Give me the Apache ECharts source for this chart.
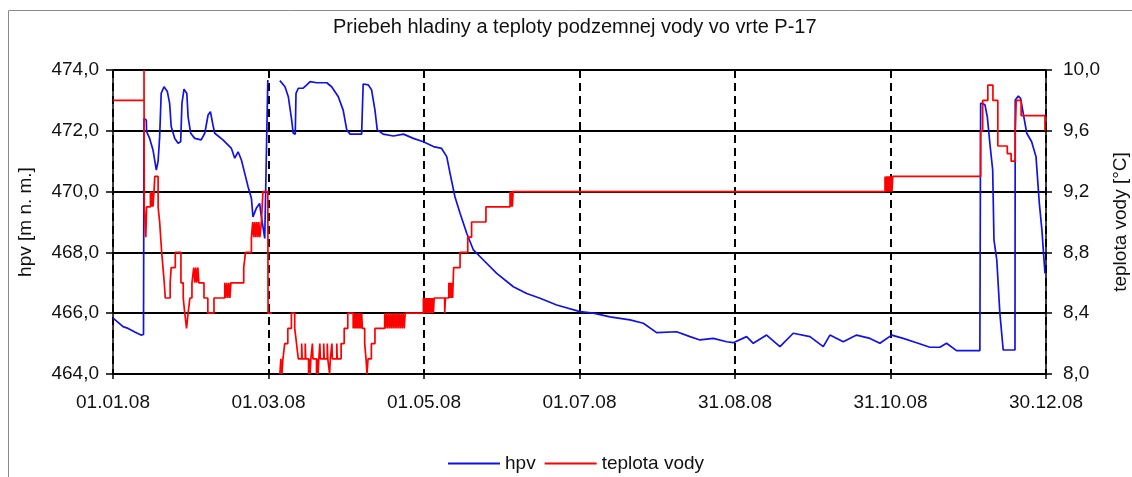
<!DOCTYPE html>
<html>
<head>
<meta charset="utf-8">
<title>Priebeh hladiny a teploty podzemnej vody vo vrte P-17</title>
<script src="https://cdn.jsdelivr.net/npm/echarts@6/dist/echarts.min.js"></script>
<style>
  html, body { margin: 0; padding: 0; background: #fff; }
  #chart { width: 1132px; height: 477px; }
</style>
</head>
<body>
<div id="chart"></div>
<script>
// x = days since 01.01.08
const dateLabels = ["01.01.08", "01.03.08", "01.05.08", "01.07.08", "31.08.08", "31.10.08", "30.12.08"];
const lastDay = 364;

// hladina podzemnej vody (hpv), m n. m.; null = missing data
const hpvDays = [
  0, 2.0, 3.9, 4.6, 5.9, 8.5, 10.9, 11.9, 12.1, 13.0, 13.1, 14.3, 15.6, 16.9, 17.6, 18.2, 18.8, 19.9,
  21.2, 22.1, 22.7, 24.1, 25.4, 26.4, 26.9, 27.7, 28.8, 29.3, 30.3, 31.9, 34.4, 35.8, 37.1, 38.0,
  39.0, 39.7, 42.9, 46.2, 47.5, 48.8, 50.1, 51.4, 52.7, 54.0, 54.6, 55.9, 57.2, 57.9, 59.2, 59.8,
  60.4, 62.0,
  65.1, 67.1, 68.4, 69.7, 70.3, 71.1, 71.4, 72.3, 74.2, 75.6, 76.9, 79.5, 83.4, 85.3, 87.9, 89.8,
  91.2, 92.5, 97.0, 97.6, 99.6, 100.9, 102.2, 103.1, 105.4, 109.4, 113.3, 117.2, 121.1, 125.0,
  128.2, 130.2, 131.5, 133.4, 135.4, 138.0, 140.6, 144.5, 149.7, 156.2, 161.4, 166.6, 173.1,
  182.2, 187.4, 193.9, 201.7, 206.9, 212.1, 219.9, 225.1, 229.0, 234.2, 239.4, 242.0, 247.2,
  249.8, 255.0, 260.2, 265.4, 271.9, 277.1, 279.7, 284.9, 290.1, 295.3, 299.2, 303.8, 308.3,
  313.5, 318.7, 322.6, 325.2, 329.1, 338.2, 338.5, 339.3, 340.2, 341.1, 342.1, 343.2, 343.7,
  344.8, 346.0, 347.3, 351.9, 352.0, 353.2, 354.1, 355.1, 356.5, 358.4, 360.1, 361.4, 362.4, 363.6
];
const hpvLevels = [
  465.84, 465.7, 465.56, 465.6, 465.5, 465.38, 465.28, 465.3, 472.41, 472.35, 471.97, 471.75, 471.37, 470.71, 471.0, 471.8, 473.23, 473.45,
  473.29, 472.9, 472.14, 471.75, 471.59, 471.64, 472.9, 473.37, 473.23, 472.46, 471.92, 471.75, 471.7, 471.92, 472.52, 472.63,
  472.19, 471.92, 471.7, 471.42, 471.1, 471.31, 471.04, 470.6, 470.16, 469.78, 469.17, 469.45, 469.61, 469.17, 468.46, 468.41,
  473.67, null,
  473.65, 473.45, 473.12, 472.36, 471.92, 471.89, 473.23, 473.4, 473.4, 473.51, 473.62, 473.58, 473.58, 473.45, 473.12, 472.68,
  472.03, 471.89, 471.89, 473.54, 473.51, 473.34, 472.68, 472.03, 471.89, 471.83, 471.89, 471.75, 471.64, 471.48,
  471.42, 471.15, 470.6, 469.83, 469.29, 468.63, 468.08, 467.75, 467.31, 466.87, 466.65, 466.49, 466.27,
  466.05, 466.0, 465.88, 465.78, 465.67, 465.36, 465.39, 465.23, 465.12, 465.17, 465.06, 465.03, 465.23,
  465.01, 465.28, 464.9, 465.34, 465.23, 464.9, 465.28, 465.06, 465.28, 465.17, 465.01, 465.28, 465.17,
  465.03, 464.88, 464.88, 465.01, 464.77, 464.77, 472.9, 472.9, 472.85, 472.46, 471.59, 470.71, 468.41,
  467.75, 466.0, 464.79, 464.79, 473.01, 473.14, 473.07, 472.58, 471.92, 471.64, 471.15, 469.61, 468.74, 467.31
];

// teplota vody, °C (each value holds until the next day in the list)
const tempDays = [
  0, 12.1, 12.2, 12.8, 13.1, 14.6, 15.0, 15.3, 15.6, 16.0, 16.3, 17.6, 18.2, 18.6, 19.0, 19.5, 20.0, 20.4,
  22.3, 22.7, 24.3, 26.5, 27.4, 28.0, 28.7, 29.3, 30.0, 30.8, 31.5, 31.9, 32.3, 32.7, 33.1, 33.5,
  35.5, 37.0, 39.4, 43.6, 44.0, 44.4, 44.8, 45.2, 45.6, 46.0, 51.0, 51.7, 52.5, 54.0, 54.5, 54.9,
  55.3, 55.7, 56.1, 56.5, 56.9, 57.3, 57.9, 58.5, 60.4, 60.5, 62.0,
  65.1, 65.5, 65.9, 66.3, 67.0, 68.2, 69.6, 70.9, 71.6, 72.3, 73.6, 73.8, 75.0, 75.2, 76.3, 76.6,
  76.9, 77.2, 77.8, 78.0, 79.4, 79.7, 80.0, 80.3, 80.7, 80.9, 82.2, 82.4, 83.6, 83.8, 84.5, 84.8,
  85.4, 85.6, 87.3, 87.5, 89.0, 90.2, 91.6, 93.7, 94.0, 94.3, 94.6, 94.9, 95.2, 95.5, 95.8, 96.1,
  96.4, 96.7, 97.0, 97.3, 97.6, 98.2, 98.7, 99.1, 99.5, 100.8, 102.2,
  106.0, 106.4, 106.8, 107.2, 107.6, 108.0, 108.4, 108.8, 109.2, 109.6, 110.0, 110.4, 110.8, 111.2,
  111.6, 112.0, 112.4, 112.8, 113.2, 113.6, 114.0,
  121.1, 121.4, 121.7, 122.0, 122.3, 122.6, 122.9, 123.2, 123.5, 123.8, 124.1, 124.4, 124.7, 125.0,
  125.3, 125.6, 129.4, 129.7, 131.0, 131.3, 131.6, 131.9, 132.2, 132.5, 132.9, 135.4, 138.4, 139.9,
  145.5, 154.9, 155.2, 155.5, 155.8, 156.1, 156.5,
  301.2, 301.5, 301.8, 302.1, 302.4, 302.7, 303.0, 303.3, 303.6, 303.9, 304.2, 304.4,
  338.5, 339.3, 341.3, 343.3, 345.2, 348.9, 350.4, 352.0, 352.4, 354.3, 363.6
];
const tempValues = [
  9.8, 10.0, 9.1, 8.9, 9.1, 9.2, 9.1, 9.2, 9.1, 9.2, 9.3, 9.1, 9.0, 8.9, 8.8, 8.7, 8.6, 8.5,
  8.6, 8.7, 8.8, 8.6, 8.5, 8.4, 8.3, 8.4, 8.5, 8.6, 8.7, 8.6, 8.7, 8.6, 8.7, 8.6,
  8.5, 8.4, 8.5, 8.6, 8.5, 8.6, 8.5, 8.6, 8.5, 8.6, 8.7, 8.8, 8.8, 8.9, 9.0, 8.9,
  9.0, 8.9, 9.0, 8.9, 9.0, 8.9, 9.0, 9.2, 9.2, 8.4, null,
  8.0, 8.1, 8.0, 8.1, 8.2, 8.3, 8.4, 8.3, 8.2, 8.1, 8.2, 8.1, 8.2, 8.1, 8.0, 8.1,
  8.0, 8.1, 8.2, 8.1, 8.0, 8.1, 8.0, 8.1, 8.2, 8.1, 8.2, 8.1, 8.2, 8.1, 8.0, 8.1,
  8.2, 8.1, 8.2, 8.1, 8.2, 8.3, 8.4, 8.3, 8.4, 8.3, 8.4, 8.3, 8.4, 8.3, 8.4, 8.3,
  8.4, 8.3, 8.4, 8.3, 8.3, 8.2, 8.1, 8.0, 8.1, 8.2, 8.3,
  8.4, 8.3, 8.4, 8.3, 8.4, 8.3, 8.4, 8.3, 8.4, 8.3, 8.4, 8.3, 8.4, 8.3,
  8.4, 8.3, 8.4, 8.3, 8.4, 8.3, 8.4,
  8.5, 8.4, 8.5, 8.4, 8.5, 8.4, 8.5, 8.4, 8.5, 8.4, 8.5, 8.4, 8.5, 8.4,
  8.5, 8.5, 8.4, 8.5, 8.6, 8.5, 8.6, 8.5, 8.6, 8.5, 8.7, 8.8, 8.9, 9.0,
  9.1, 9.2, 9.1, 9.2, 9.1, 9.2, 9.2,
  9.3, 9.2, 9.3, 9.2, 9.3, 9.2, 9.3, 9.2, 9.3, 9.2, 9.3, 9.3,
  9.6, 9.8, 9.9, 9.8, 9.5, 9.45, 9.4, 9.6, 9.8, 9.7, 9.6
];

const toPairs = (xs, ys) => xs.map((x, i) => [x, ys[i] == null ? "-" : ys[i]]);
const fmt = (v) => v.toFixed(1).replace(".", ",");
const font = "Liberation Sans, Arial, sans-serif";

const chart = echarts.init(document.getElementById("chart"));
chart.setOption({
  animation: false,
  backgroundColor: "#fff",
  graphic: [
    {
      type: "rect",
      shape: { x: 8.5, y: 10.5, width: 1200, height: 600 },
      style: { fill: "none", stroke: "#8a8a8a", lineWidth: 1 },
      silent: true,
    },
  ],
  title: {
    text: "Priebeh hladiny a teploty podzemnej vody vo vrte P-17",
    left: 328,
    top: 12,
    textStyle: { fontFamily: font, fontSize: 20, fontWeight: "normal", color: "#111" },
  },
  legend: {
    data: ["hpv", "teplota vody"],
    left: 443,
    top: 449,
    icon: "rect",
    itemWidth: 52,
    itemHeight: 2,
    itemGap: 9,
    textStyle: { fontFamily: font, fontSize: 19, color: "#111" },
  },
  grid: {
    left: 113,
    right: 86,
    top: 70,
    bottom: 103,
    outerBoundsMode: "none",
    containLabel: false,
  },
  xAxis: {
    type: "value",
    min: 0,
    max: lastDay,
    interval: lastDay / 6,
    axisLine: { lineStyle: { color: "#000", width: 1.5 } },
    axisTick: { length: 5, lineStyle: { color: "#000", width: 1.5 } },
    axisLabel: {
      margin: 19,
      fontFamily: font,
      fontSize: 19,
      color: "#111",
      formatter: (v) => dateLabels[Math.round(v / (lastDay / 6))],
    },
    splitLine: { show: true, lineStyle: { color: "#000", width: 2, type: [8, 5] } },
  },
  yAxis: [
    {
      type: "value",
      min: 464,
      max: 474,
      interval: 2,
      name: "hpv [m n. m.]",
      nameLocation: "middle",
      nameGap: 78,
      nameTextStyle: { fontFamily: font, fontSize: 19, color: "#111" },
      axisLine: { show: true, lineStyle: { color: "#000", width: 1.5 } },
      axisTick: { show: true, length: 7, lineStyle: { color: "#000", width: 1.5 } },
      axisLabel: { margin: 14, fontFamily: font, fontSize: 19, color: "#111", formatter: fmt },
      splitLine: { show: true, lineStyle: { color: "#000", width: 2 } },
    },
    {
      type: "value",
      min: 8,
      max: 10,
      interval: 0.4,
      name: "teplota vody [°C]",
      nameLocation: "middle",
      nameGap: 60,
      nameTextStyle: { fontFamily: font, fontSize: 19, color: "#111" },
      axisLine: { show: true, lineStyle: { color: "#000", width: 1.5 } },
      axisTick: { show: true, length: 6, lineStyle: { color: "#000", width: 1.5 } },
      axisLabel: { margin: 17, fontFamily: font, fontSize: 19, color: "#111", formatter: fmt },
      splitLine: { show: false },
    },
  ],
  series: [
    {
      name: "hpv",
      type: "line",
      yAxisIndex: 0,
      showSymbol: false,
      connectNulls: false,
      color: "#1212e6",
      lineStyle: { color: "#1212e6", width: 1.7 },
      data: toPairs(hpvDays, hpvLevels),
    },
    {
      name: "teplota vody",
      type: "line",
      yAxisIndex: 1,
      step: "end",
      showSymbol: false,
      connectNulls: false,
      color: "#ff0000",
      lineStyle: { color: "#ff0000", width: 1.7 },
      data: toPairs(tempDays, tempValues),
    },
  ],
});
</script>
</body>
</html>
